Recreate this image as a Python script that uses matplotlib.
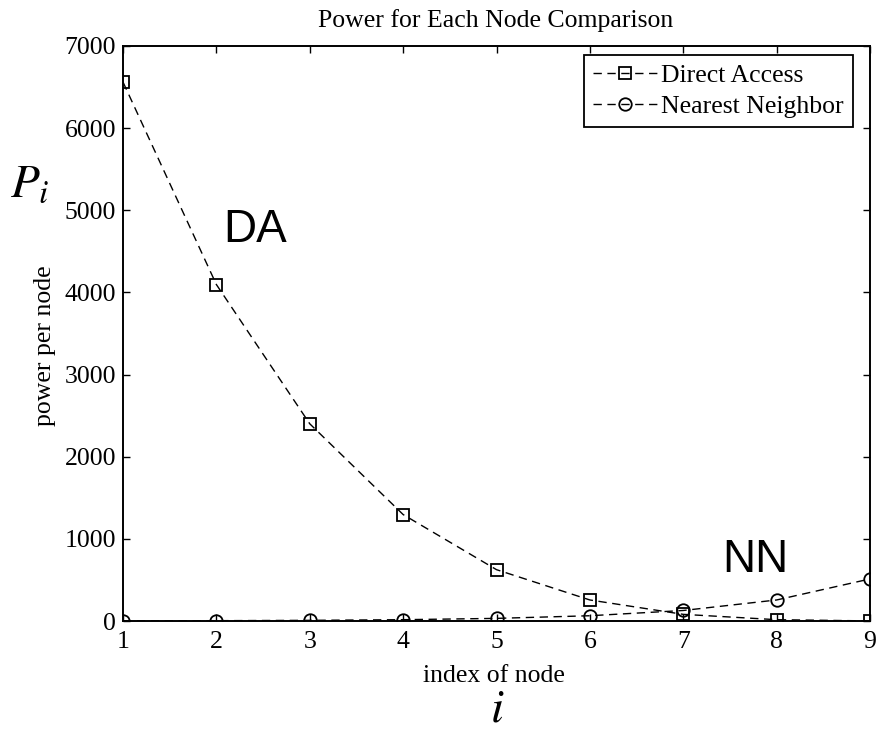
import numpy as np
import matplotlib
matplotlib.use('Agg')
import matplotlib.pyplot as plt

# power per node for each routing scheme
nodes = [1, 2, 3, 4, 5, 6, 7, 8, 9]
direct_access = [6561, 4096, 2401, 1296, 625, 256, 81, 16, 1]
nearest_neighbor = [2, 4, 8, 16, 32, 64, 128, 256, 512]

plt.rcParams['font.family'] = ['Liberation Serif', 'DejaVu Serif']
plt.rcParams['mathtext.fontset'] = 'stix'

W, H = 882, 735
fig = plt.figure(figsize=(W / 100, H / 100), dpi=100)
ax = fig.add_axes([123 / W, (H - 621) / H, 747 / W, 575 / H])

ax.plot(nodes, direct_access, 'k--', marker='s', markersize=9, markerfacecolor='none',
        markeredgewidth=1.3, linewidth=1.0, dashes=(6, 4), label='Direct Access')
ax.plot(nodes, nearest_neighbor, 'k--', marker='o', markersize=9, markerfacecolor='none',
        markeredgewidth=1.3, linewidth=1.0, dashes=(6, 4), label='Nearest Neighbor')

ax.set_xlim(1, 9)
ax.set_ylim(0, 7000)
ax.set_xticks(range(1, 10))
ax.set_yticks(range(0, 7001, 1000))
ax.tick_params(direction='in', length=5, width=1, top=True, right=True, labelsize=18.5)
ax.tick_params(axis='x', pad=7)
ax.tick_params(axis='y', pad=5)
for s in ax.spines.values():
    s.set_linewidth(1.4)

fig.text(496 / W, 1 - 27 / H, 'Power for Each Node Comparison', fontsize=18.5,
         ha='center', va='baseline')
fig.text(494 / W, 1 - 682 / H, 'index of node', fontsize=18.5, ha='center', va='baseline')
fig.text(45 / W, 1 - 346 / H, 'power per node', fontsize=18.5, ha='center', va='center',
         rotation=90)

leg = ax.legend(loc='upper right', bbox_to_anchor=(0.977, 0.984), fontsize=18.5,
                fancybox=False, framealpha=1, edgecolor='black', handlelength=2.5,
                borderaxespad=0, borderpad=0.35, labelspacing=0.3, handletextpad=0.15)
leg.get_frame().set_linewidth(1.3)

ax.text(2.07, 4614, 'DA', fontsize=33, family='Liberation Sans', va='baseline', ha='left')
ax.text(7.42, 597, 'NN', fontsize=33, family='Liberation Sans', va='baseline', ha='left')

# big axis symbols: P_i beside the y label, i under the x label
fig.text(10 / W, 1 - 197 / H, '$P_i$', fontsize=34, va='baseline', ha='left')
fig.text(497 / W, 1 - 722 / H, '$i$', fontsize=34, va='baseline', ha='center')

fig.savefig('out.png', dpi=100)
